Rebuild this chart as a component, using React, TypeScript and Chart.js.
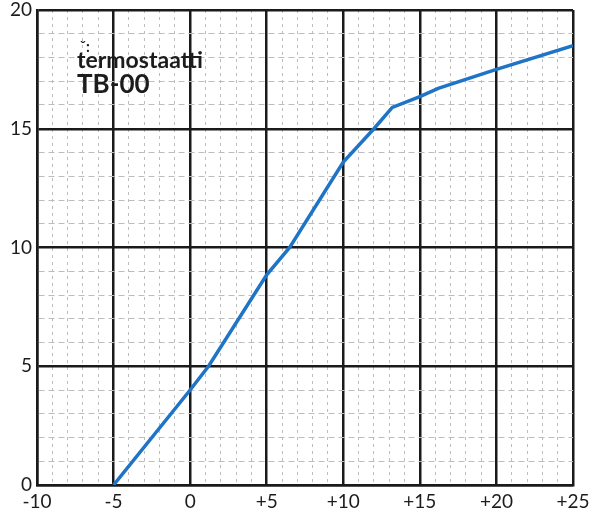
import React, { useEffect, useRef } from "react";
import { Chart, registerables } from "chart.js";

Chart.register(...registerables);

const xValues = [-5, 0, 1.2, 5, 6.5, 10, 12, 13.2, 15, 16.2, 20, 25];
const yValues = [0, 4, 5, 8.85, 10, 13.6, 15, 15.9, 16.35, 16.7, 17.5, 18.5];
const xRange = [-10, 25];
const yRange = [0, 20];
const majorStep = 5;
const titleLines = ["termostaatti", "TB-00"];

const fmtX = (v: number) => (v > 0 ? "+" + v : String(v));

const textPlugin = {
  id: "labelText",
  afterDraw(chart: any) {
    const ctx = chart.ctx;
    ctx.save();
    ctx.fillStyle = "#1c1c1c";
    ctx.textAlign = "left";
    ctx.textBaseline = "alphabetic";
    ctx.font = "bold 15px Lato";
    ctx.fillText("ˇ:", 80, 52);
    ctx.font = "bold 23px Lato";
    ctx.fillText(titleLines[0], 77, 68);
    ctx.font = "bold 26px Lato";
    ctx.fillText(titleLines[1], 77, 93);
    ctx.restore();
  },
};

export default function App() {
  const ref = useRef<HTMLCanvasElement>(null);
  useEffect(() => {
    if (!ref.current) return;
    const isMajor = (v: number) => Math.abs(v % majorStep) < 1e-6;
    const chart = new Chart(ref.current, {
      type: "scatter",
      data: {
        datasets: [
          {
            data: xValues.map((x, i) => ({ x, y: yValues[i] })),
            showLine: true,
            borderColor: "#1f74c6",
            borderWidth: 3.5,
            pointRadius: 0,
            tension: 0,
          },
        ],
      },
      options: {
        animation: false,
        responsive: false,
        events: [],
        layout: { padding: { left: 0, top: 10, right: 30, bottom: 0 } },
        plugins: { legend: { display: false }, tooltip: { enabled: false } },
        scales: {
          x: {
            type: "linear",
            min: xRange[0],
            max: xRange[1],
            afterFit: (s: any) => {
              s.height = 32;
              s.paddingLeft = 0;
              s.paddingRight = 0;
            },
            ticks: {
              stepSize: 1,
              autoSkip: false,
              maxRotation: 0,
              padding: 5,
              color: "#1c1c1c",
              font: { family: "Lato", size: 19 },
              callback: (v: any) => (isMajor(Number(v)) ? fmtX(Number(v)) : ""),
            },
            grid: {
              drawTicks: false,
              color: (c: any) => (isMajor(c.tick?.value ?? 0) ? "#1a1a1a" : "#bdbdbd"),
              lineWidth: (c: any) => (isMajor(c.tick?.value ?? 0) ? 2.5 : 1),
            },
            border: {
              display: true,
              color: "#1a1a1a",
              width: 2.5,
              dash: (c: any) => (isMajor(c.tick?.value ?? 0) ? [] : [3, 4]),
            },
          },
          y: {
            type: "linear",
            min: yRange[0],
            max: yRange[1],
            afterFit: (s: any) => {
              s.width = 37;
              s.paddingTop = 0;
              s.paddingBottom = 0;
            },
            ticks: {
              stepSize: 1,
              autoSkip: false,
              padding: 5,
              color: "#1c1c1c",
              font: { family: "Lato", size: 19 },
              callback: (v: any) => (isMajor(Number(v)) ? String(v) : ""),
            },
            grid: {
              drawTicks: false,
              color: (c: any) => (isMajor(c.tick?.value ?? 0) ? "#1a1a1a" : "#bdbdbd"),
              lineWidth: (c: any) => (isMajor(c.tick?.value ?? 0) ? 2.5 : 1),
            },
            border: {
              display: true,
              color: "#1a1a1a",
              width: 2.5,
              dash: (c: any) => (isMajor(c.tick?.value ?? 0) ? [] : [6, 4]),
            },
          },
        },
      },
      plugins: [textPlugin],
    });
    return () => chart.destroy();
  }, []);
  return (
    <div style={{ position: "absolute", left: 0, top: 0, width: 603, height: 517, background: "#fff" }}>
      <canvas ref={ref} width={603} height={517} />
    </div>
  );
}
